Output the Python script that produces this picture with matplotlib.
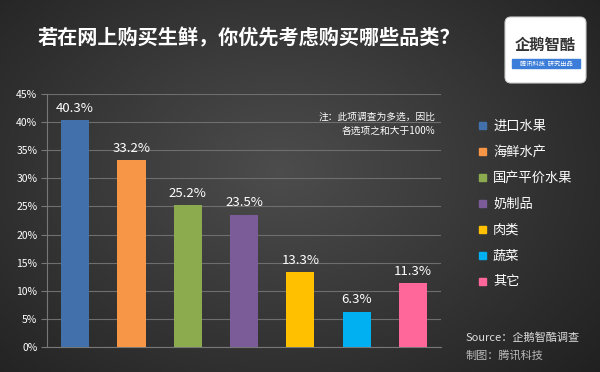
import numpy as np
import matplotlib.pyplot as plt
from matplotlib.patches import FancyBboxPatch, Rectangle

plt.rcParams['font.family'] = ['Noto Sans CJK SC', 'DejaVu Sans']

categories = ['进口水果', '海鲜水产', '国产平价水果', '奶制品', '肉类', '蔬菜', '其它']
values = [40.3, 33.2, 25.2, 23.5, 13.3, 6.3, 11.3]
colors = ['#4170aa', '#f79646', '#8cab4f', '#7b5c99', '#ffc000', '#00b0f0', '#ff6699']
yticks = [0, 5, 10, 15, 20, 25, 30, 35, 40, 45]

fig = plt.figure(figsize=(6, 3.72), dpi=100)

# radial-ish dark background
bg = fig.add_axes([0, 0, 1, 1])
yy, xx = np.mgrid[0:372, 0:600]
d = np.sqrt(((xx - 280) / 420.0) ** 2 + ((yy - 170) / 300.0) ** 2)
shade = np.clip(0.30 - 0.17 * d, 0.12, 0.30)
bg.imshow(np.dstack([shade] * 3), extent=[0, 600, 372, 0], aspect='auto')
bg.set_xlim(0, 600)
bg.set_ylim(372, 0)
bg.axis('off')

ax = fig.add_axes([47 / 600, 25 / 372, 394 / 600, 253 / 372])
ax.patch.set_alpha(0)
x = np.arange(len(categories))
ax.bar(x, values, width=0.5, color=colors, zorder=3)
for xi, v in zip(x, values):
    ax.text(xi, v + 1.0, f'{v}%', ha='center', va='bottom', color='white', fontsize=9.5)
ax.set_xlim(-0.5, len(categories) - 0.5)
ax.set_ylim(0, 45)
ax.set_yticks(yticks)
ax.set_yticklabels([f'{t}%' for t in yticks], color='white', fontsize=7.5)
ax.set_xticks([])
ax.grid(axis='y', color='#6e6e6e', linewidth=0.8, zorder=0)
for s in ['top', 'right']:
    ax.spines[s].set_visible(False)
ax.spines['left'].set_color('#777777')
ax.spines['bottom'].set_color('#777777')
ax.tick_params(axis='y', length=4, color='#777777', pad=3)

ax.text(0.985, 0.93, '注：此项调查为多选，因比\n各选项之和大于100%', transform=ax.transAxes,
        ha='right', va='top', color='white', fontsize=7, style='italic', linespacing=1.5)

# legend
for i, (c, col) in enumerate(zip(categories, colors)):
    y = 126 + i * 26
    bg.add_patch(Rectangle((479, y - 4), 7, 7, color=col))
    bg.text(493, y, c, color='white', fontsize=9.5, va='center', ha='left')

# title
bg.text(38, 38, '若在网上购买生鲜，你优先考虑购买哪些品类？', color='white', fontsize=14.5,
        fontweight='bold', va='center', ha='left')

# logo
bg.add_patch(FancyBboxPatch((505, 17), 81, 66, boxstyle='round,pad=0,rounding_size=6',
                            facecolor='white', edgecolor='#cccccc', linewidth=0.8))
bg.text(545, 45, '企鹅智酷', color='#333333', fontsize=11, fontweight='bold', ha='center', va='center')
bg.add_patch(Rectangle((512, 59), 68, 9, color='#3b7dd8'))
bg.text(546, 63.5, '腾讯科技  研究出品', color='white', fontsize=4.5, ha='center', va='center',
        style='italic')

# source
bg.text(466, 338, 'Source：企鹅智酷调查', color='#dddddd', fontsize=8, style='italic', va='center')
bg.text(466, 355, '制图：腾讯科技', color='#bbbbbb', fontsize=8, style='italic', va='center')

fig.savefig('out.png', dpi=100)
